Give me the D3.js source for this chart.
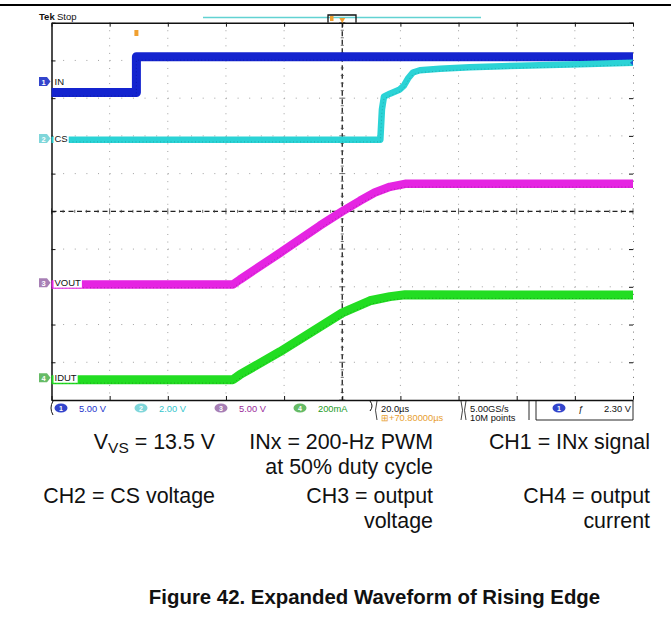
<!DOCTYPE html>
<html><head><meta charset="utf-8">
<script src="https://cdn.jsdelivr.net/npm/d3@7"></script>
<style>body{margin:0;background:#fff}svg{display:block}</style>
</head><body>
<svg id="c" width="671" height="620"></svg>
<script>
// ---- data (time in µs relative to screen centre, level in divisions) ----
const timeTicksUs = d3.range(-100, 101, 20);
const divTicks = d3.range(-5, 6, 1);
const ch1Time = [-100, -70.8, -70.8, 100];
const ch1Div  = [3.15, 3.15, 4.10, 4.10];
const ch2Time = [-100, 13.1, 13.65, 14.34, 16.4, 19.8, 21.2, 22.6, 24.3, 26.7, 33.6, 43.9, 61.1, 81.7, 100];
const ch2Div  = [1.90, 1.90, 2.70, 3.04, 3.12, 3.23, 3.33, 3.52, 3.68, 3.74, 3.78, 3.82, 3.86, 3.90, 3.94];
const ch3Time = [-100, -37.6, -35.2, -21.4, -7.7, 0, 6.1, 11.2, 16.4, 21.6, 100];
const ch3Div  = [-1.94, -1.94, -1.81, -1.10, -0.38, 0, 0.28, 0.50, 0.65, 0.73, 0.73];
const ch4Time = [-100, -37.6, -35.2, -21.4, 0, 9.5, 16.4, 21.6, 100];
const ch4Div  = [-4.46, -4.46, -4.33, -3.72, -2.69, -2.37, -2.26, -2.21, -2.22];
const channelNames  = ["IN", "CS", "VOUT", "IDUT"];
const channelNums   = ["1", "2", "3", "4"];
const channelMarkDiv = [3.44, 1.93, -1.89, -4.41];
const channelScales = ["5.00 V", "2.00 V", "5.00 V", "200mA"];
const timeBase = "20.0µs";
const delayText = "+70.80000µs";
const sampleRate = "5.00GS/s";
const recordLen = "10M points";
const triggerLevel = "2.30 V";
const captionRows = [
  [["V", "VS", " = 13.5 V"], ["INx = 200-Hz PWM", "at 50% duty cycle"], ["CH1 = INx signal"]],
  [["CH2 = CS voltage"], ["CH3 = output", "voltage"], ["CH4 = output", "current"]]
];
const figureTitle = "Figure 42. Expanded Waveform of Rising Edge";

// ---- styles ----
const traceColors = ["#1424cf", "#2bd3d6", "#e524e2", "#22dd22"];
const traceDark   = ["#0a1290", "#138f92", "#8a148a", "#0f7a0f"];
const traceWidths = [9, 6.5, 8.5, 9];
const markColors  = ["#3345cc", "#7fd6da", "#a77fb5", "#66bb66"];
const scaleTextColors = ["#2233cc", "#33c5cc", "#9a2a9a", "#1d9a1d"];

const svg = d3.select("#c");
const X0 = 51.5, X1 = 633, Y0 = 22.7, Y1 = 400;
const x = d3.scaleLinear().domain([-100, 100]).range([X0, X1]);
const y = d3.scaleLinear().domain([-5, 5]).range([Y1, Y0]);

// top rule
svg.append("line").attr("x1", 0).attr("x2", 671).attr("y1", 5).attr("y2", 5)
  .attr("stroke", "#000").attr("stroke-width", 2);

// dotted grid
const g = svg.append("g");
const minorX = (x(20) - x(0)) / 5, minorY = (y(0) - y(1)) / 5;
g.selectAll("line.vg").data(timeTicksUs.filter(t => t > -100 && t < 100 && t !== 0)).join("line")
  .attr("x1", d => x(d)).attr("x2", d => x(d)).attr("y1", Y0).attr("y2", Y1)
  .attr("stroke", "#a0a0a0").attr("stroke-width", 1).attr("stroke-dasharray", `1,${minorY - 1}`);
g.selectAll("line.hg").data(divTicks.filter(t => t > -5 && t < 5 && t !== 0)).join("line")
  .attr("x1", X0).attr("x2", X1).attr("y1", d => y(d)).attr("y2", d => y(d))
  .attr("stroke", "#a0a0a0").attr("stroke-width", 1).attr("stroke-dasharray", `1,${minorX - 1}`);
// centre dashed cross
g.append("line").attr("x1", x(0)).attr("x2", x(0)).attr("y1", Y0).attr("y2", Y1)
  .attr("stroke", "#222").attr("stroke-width", 1.3).attr("stroke-dasharray", "5,3.5");
g.append("line").attr("x1", X0).attr("x2", X1).attr("y1", y(0)).attr("y2", y(0))
  .attr("stroke", "#222").attr("stroke-width", 1.3).attr("stroke-dasharray", "5,3.5");
// small ticks on centre lines
const minorTimes = d3.range(-100, 100.01, 4);
const minorDivs = d3.range(-5, 5.01, 0.2);
g.selectAll("line.ct").data(minorTimes).join("line")
  .attr("x1", d => x(d)).attr("x2", d => x(d))
  .attr("y1", d => y(0) - (Math.round(d) % 20 === 0 ? 3 : 1.5)).attr("y2", d => y(0) + (Math.round(d) % 20 === 0 ? 3 : 1.5))
  .attr("stroke", "#444").attr("stroke-width", 0.8);
g.selectAll("line.cv").data(minorDivs).join("line")
  .attr("y1", d => y(d)).attr("y2", d => y(d))
  .attr("x1", d => x(0) - (Math.abs(d - Math.round(d)) < 0.01 ? 3 : 1.5)).attr("x2", d => x(0) + (Math.abs(d - Math.round(d)) < 0.01 ? 3 : 1.5))
  .attr("stroke", "#444").attr("stroke-width", 0.8);

// border axes
const axStyle = sel => { sel.selectAll("text").remove(); sel.selectAll("path,line").attr("stroke", "#111"); };
svg.append("g").attr("transform", `translate(0,${Y0})`)
  .call(d3.axisBottom(x).tickValues(timeTicksUs).tickSize(4).tickSizeOuter(0)).call(axStyle)
  .select(".domain").attr("stroke-width", 1.5);
svg.append("g").attr("transform", `translate(0,${Y1})`)
  .call(d3.axisTop(x).tickValues(timeTicksUs).tickSize(4).tickSizeOuter(0)).call(axStyle)
  .select(".domain").attr("stroke-width", 1.5);
svg.append("g").attr("transform", `translate(${X0},0)`)
  .call(d3.axisRight(y).tickValues(divTicks).tickSize(4).tickSizeOuter(0)).call(axStyle)
  .select(".domain").attr("stroke-width", 1.5);
const rAx = svg.append("g").attr("transform", `translate(${X1},0)`)
  .call(d3.axisLeft(y).tickValues(divTicks).tickSize(4).tickSizeOuter(0)).call(axStyle);
rAx.select(".domain").attr("stroke", "#777").attr("stroke-dasharray", `1,${minorY - 1}`);

// traces
const traces = [[ch1Time, ch1Div], [ch2Time, ch2Div], [ch3Time, ch3Div], [ch4Time, ch4Div]];
const line = d3.line().x(d => x(d[0])).y(d => y(d[1]));
const tg = svg.append("g");
traces.forEach(([t, v], i) => {
  const pts = t.map((tt, k) => [tt, v[k]]);
  tg.append("path").attr("d", line(pts)).attr("fill", "none")
    .attr("stroke", traceColors[i]).attr("stroke-width", traceWidths[i]).attr("stroke-linejoin", "round");
  tg.append("path").attr("d", line(pts)).attr("fill", "none")
    .attr("transform", `translate(0,${traceWidths[i] / 2 - 1})`)
    .attr("stroke", traceDark[i]).attr("stroke-width", 1).attr("stroke-opacity", 0.55)
    .attr("stroke-dasharray", "1,2.5");
});

// channel markers and labels
const lab = svg.append("g").attr("font-family", "Liberation Sans, Arial, sans-serif");
channelNames.forEach((nm, i) => {
  const cy = y(channelMarkDiv[i]);
  lab.append("path").attr("d", `M39,${cy - 4.5}h8l3.5,4.5l-3.5,4.5h-8z`).attr("fill", markColors[i]);
  lab.append("text").attr("x", 43.5).attr("y", cy + 3).attr("text-anchor", "middle")
    .attr("font-size", 7.5).attr("fill", "#fff").attr("font-weight", "bold").text(channelNums[i]);
  const tx = lab.append("text").attr("x", 54.5).attr("y", cy + 3.4).attr("font-size", 9.5).attr("fill", "#111").text(nm);
  const w = tx.node().getComputedTextLength();
  lab.insert("rect", "text:last-child").attr("x", 53.5).attr("y", cy - 5).attr("width", w + 2).attr("height", 10).attr("fill", "#fff");
});

// top bar: Tek Stop, record view
svg.append("text").attr("x", 39).attr("y", 20).attr("font-family", "Liberation Sans, Arial, sans-serif")
  .attr("font-size", 9.5).attr("font-weight", "bold").attr("fill", "#111").text("Tek");
svg.append("text").attr("x", 57).attr("y", 20).attr("font-family", "Liberation Sans, Arial, sans-serif")
  .attr("font-size", 9.5).attr("fill", "#111").text("Stop");
svg.append("line").attr("x1", 203).attr("x2", 481).attr("y1", 17.5).attr("y2", 17.5)
  .attr("stroke", "#62d2d2").attr("stroke-width", 1.5);
svg.append("path").attr("d", `M328,${Y0}V15H356V${Y0}`).attr("fill", "none").attr("stroke", "#111").attr("stroke-width", 1.3);
svg.append("rect").attr("x", 330).attr("y", 16).attr("width", 3.5).attr("height", 5).attr("fill", "#f0a030");
svg.append("path").attr("d", `M${x(0) - 3},18h6l-3,5z`).attr("fill", "#f0a030");
svg.append("rect").attr("x", x(-70.8) - 2).attr("y", 30).attr("width", 4).attr("height", 6).attr("fill", "#f0a030");
svg.append("path").attr("d", `M${x(100)},${y(3.94) - 2.5}l-3,2.5l3,2.5z`).attr("fill", "#1a5ad0");

// status bar
const sb = svg.append("g").attr("font-family", "Liberation Sans, Arial, sans-serif").attr("font-size", 9.3);
const chX = [61, 141, 221, 300];
channelScales.forEach((s, i) => {
  sb.append("ellipse").attr("cx", chX[i]).attr("cy", 408).attr("rx", 6.5).attr("ry", 4.5).attr("fill", markColors[i]);
  sb.append("text").attr("x", chX[i]).attr("y", 411).attr("text-anchor", "middle").attr("fill", "#fff")
    .attr("font-size", 7).attr("font-weight", "bold").text(channelNums[i]);
  sb.append("text").attr("x", chX[i] + 18).attr("y", 411.5).attr("fill", scaleTextColors[i]).text(s);
});
sb.append("path").attr("d", "M53,401q-4,7,0,14").attr("fill", "none").attr("stroke", "#111").attr("stroke-width", 1);
sb.append("path").attr("d", "M370,401q4,5,0,10").attr("fill", "none").attr("stroke", "#111").attr("stroke-width", 1);
sb.append("path").attr("d", "M377,401q-3,9,0,19").attr("fill", "none").attr("stroke", "#111").attr("stroke-width", 0.8);
sb.append("text").attr("x", 381).attr("y", 411.5).attr("fill", "#111").text(timeBase);
sb.append("text").attr("x", 381).attr("y", 421).attr("fill", "#e8a030").text("⊞" + delayText);
sb.append("path").attr("d", "M461,401q3,9,0,19M466,401q-3,9,0,19").attr("fill", "none").attr("stroke", "#111").attr("stroke-width", 0.8);
sb.append("text").attr("x", 470).attr("y", 411.5).attr("fill", "#111").text(sampleRate);
sb.append("text").attr("x", 470).attr("y", 421).attr("fill", "#111").text(recordLen);
sb.append("path").attr("d", "M529,401v19M536,401v19H633V401").attr("fill", "none").attr("stroke", "#111").attr("stroke-width", 0.9);
sb.append("ellipse").attr("cx", 559).attr("cy", 408).attr("rx", 6.5).attr("ry", 4.5).attr("fill", markColors[0]);
sb.append("text").attr("x", 559).attr("y", 411).attr("text-anchor", "middle").attr("fill", "#fff")
  .attr("font-size", 7).attr("font-weight", "bold").text(channelNums[0]);
sb.append("text").attr("x", 578).attr("y", 411.5).attr("fill", "#111").attr("font-style", "italic").text("ƒ");
sb.append("text").attr("x", 631).attr("y", 411.5).attr("text-anchor", "end").attr("fill", "#111").text(triggerLevel);

// captions
const cap = svg.append("g").attr("font-family", "Liberation Sans, Arial, sans-serif").attr("font-size", 21.4).attr("fill", "#111");
const colRight = [215, 433, 650];
const rowBase = [449, 503];
captionRows.forEach((row, r) => {
  row.forEach((cell, c) => {
    if (r === 0 && c === 0) {
      const t = cap.append("text").attr("x", colRight[c]).attr("y", rowBase[r]).attr("text-anchor", "end");
      t.append("tspan").text(cell[0]);
      t.append("tspan").attr("font-size", 15.5).attr("dy", 4).text(cell[1]);
      t.append("tspan").attr("dy", -4).text(cell[2]);
    } else {
      cell.forEach((ln, k) => {
        cap.append("text").attr("x", colRight[c]).attr("y", rowBase[r] + k * 24.5).attr("text-anchor", "end").text(ln);
      });
    }
  });
});
svg.append("text").attr("x", 374.5).attr("y", 604).attr("text-anchor", "middle")
  .attr("font-family", "Liberation Sans, Arial, sans-serif").attr("font-size", 20.4).attr("font-weight", "bold")
  .attr("fill", "#111").text(figureTitle);
</script>
</body></html>
